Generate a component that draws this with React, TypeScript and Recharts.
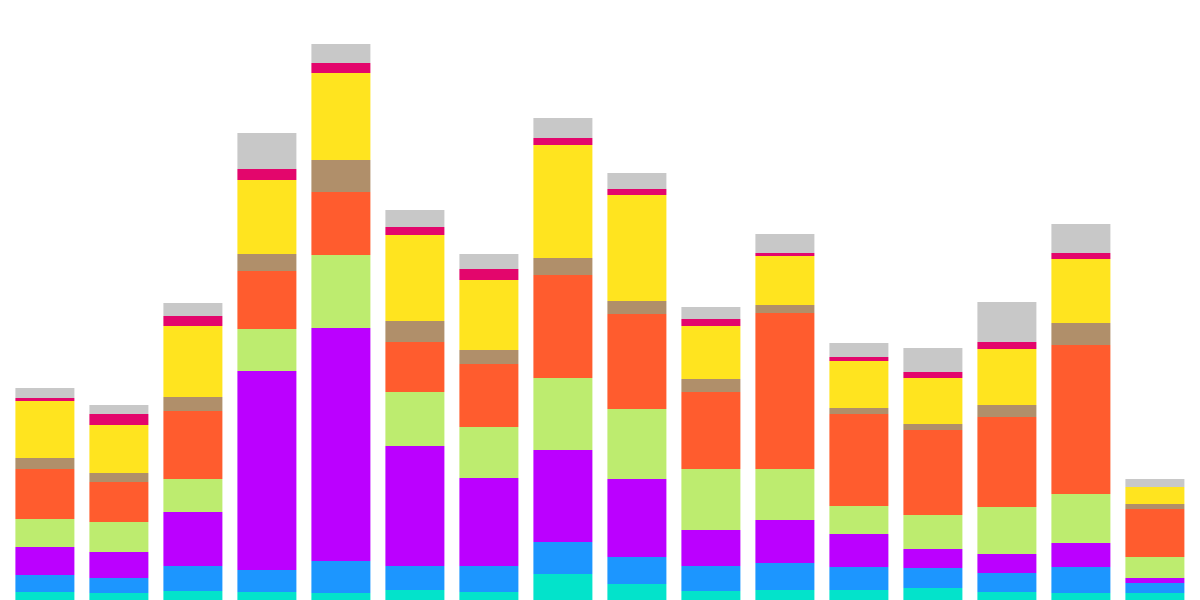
import React from "react";
import { BarChart, Bar, XAxis, YAxis } from "recharts";

const categories = ["1", "2", "3", "4", "5", "6", "7", "8", "9", "10", "11", "12", "13", "14", "15", "16"];
const s1 = [8, 7, 9, 8, 7, 10, 8, 26, 16, 9, 10, 10, 12, 8, 7, 7];
const s2 = [17, 15, 25, 22, 32, 24, 26, 32, 27, 25, 27, 23, 20, 19, 26, 10];
const s3 = [28, 26, 54, 199, 233, 120, 88, 92, 78, 36, 43, 33, 19, 19, 24, 5];
const s4 = [28, 30, 33, 42, 73, 54, 51, 72, 70, 61, 51, 28, 34, 47, 49, 21];
const s5 = [50, 40, 68, 58, 63, 50, 63, 103, 95, 77, 156, 92, 85, 90, 149, 48];
const s6 = [11, 9, 14, 17, 32, 21, 14, 17, 13, 13, 8, 6, 6, 12, 22, 5];
const s7 = [57, 48, 71, 74, 87, 86, 70, 113, 106, 53, 49, 47, 46, 56, 64, 17];
const s8 = [3, 11, 10, 11, 10, 8, 11, 7, 6, 7, 3, 4, 6, 7, 6, 0];
const s9 = [10, 9, 13, 36, 19, 17, 15, 20, 16, 12, 19, 14, 24, 40, 29, 8];

const series = [
  { key: "s1", values: s1, color: "#03e3cb" },
  { key: "s2", values: s2, color: "#1c96ff" },
  { key: "s3", values: s3, color: "#bb00ff" },
  { key: "s4", values: s4, color: "#bdec6f" },
  { key: "s5", values: s5, color: "#ff5c2e" },
  { key: "s6", values: s6, color: "#b08f6a" },
  { key: "s7", values: s7, color: "#ffe41f" },
  { key: "s8", values: s8, color: "#e3066c" },
  { key: "s9", values: s9, color: "#c8c8c8" },
];

const data = categories.map((c, i) => {
  const row: Record<string, number | string> = { name: c };
  series.forEach((s) => {
    row[s.key] = s.values[i];
  });
  return row;
});

export default function App() {
  return (
    <BarChart
      width={1184}
      height={592}
      data={data}
      margin={{ top: 0, right: 0, bottom: 0, left: 0 }}
      barCategoryGap="10%"
    >
      <XAxis dataKey="name" hide />
      <YAxis hide domain={[0, 592]} />
      {series.map((s) => (
        <Bar
          key={s.key}
          dataKey={s.key}
          stackId="a"
          fill={s.color}
          isAnimationActive={false}
        />
      ))}
    </BarChart>
  );
}
